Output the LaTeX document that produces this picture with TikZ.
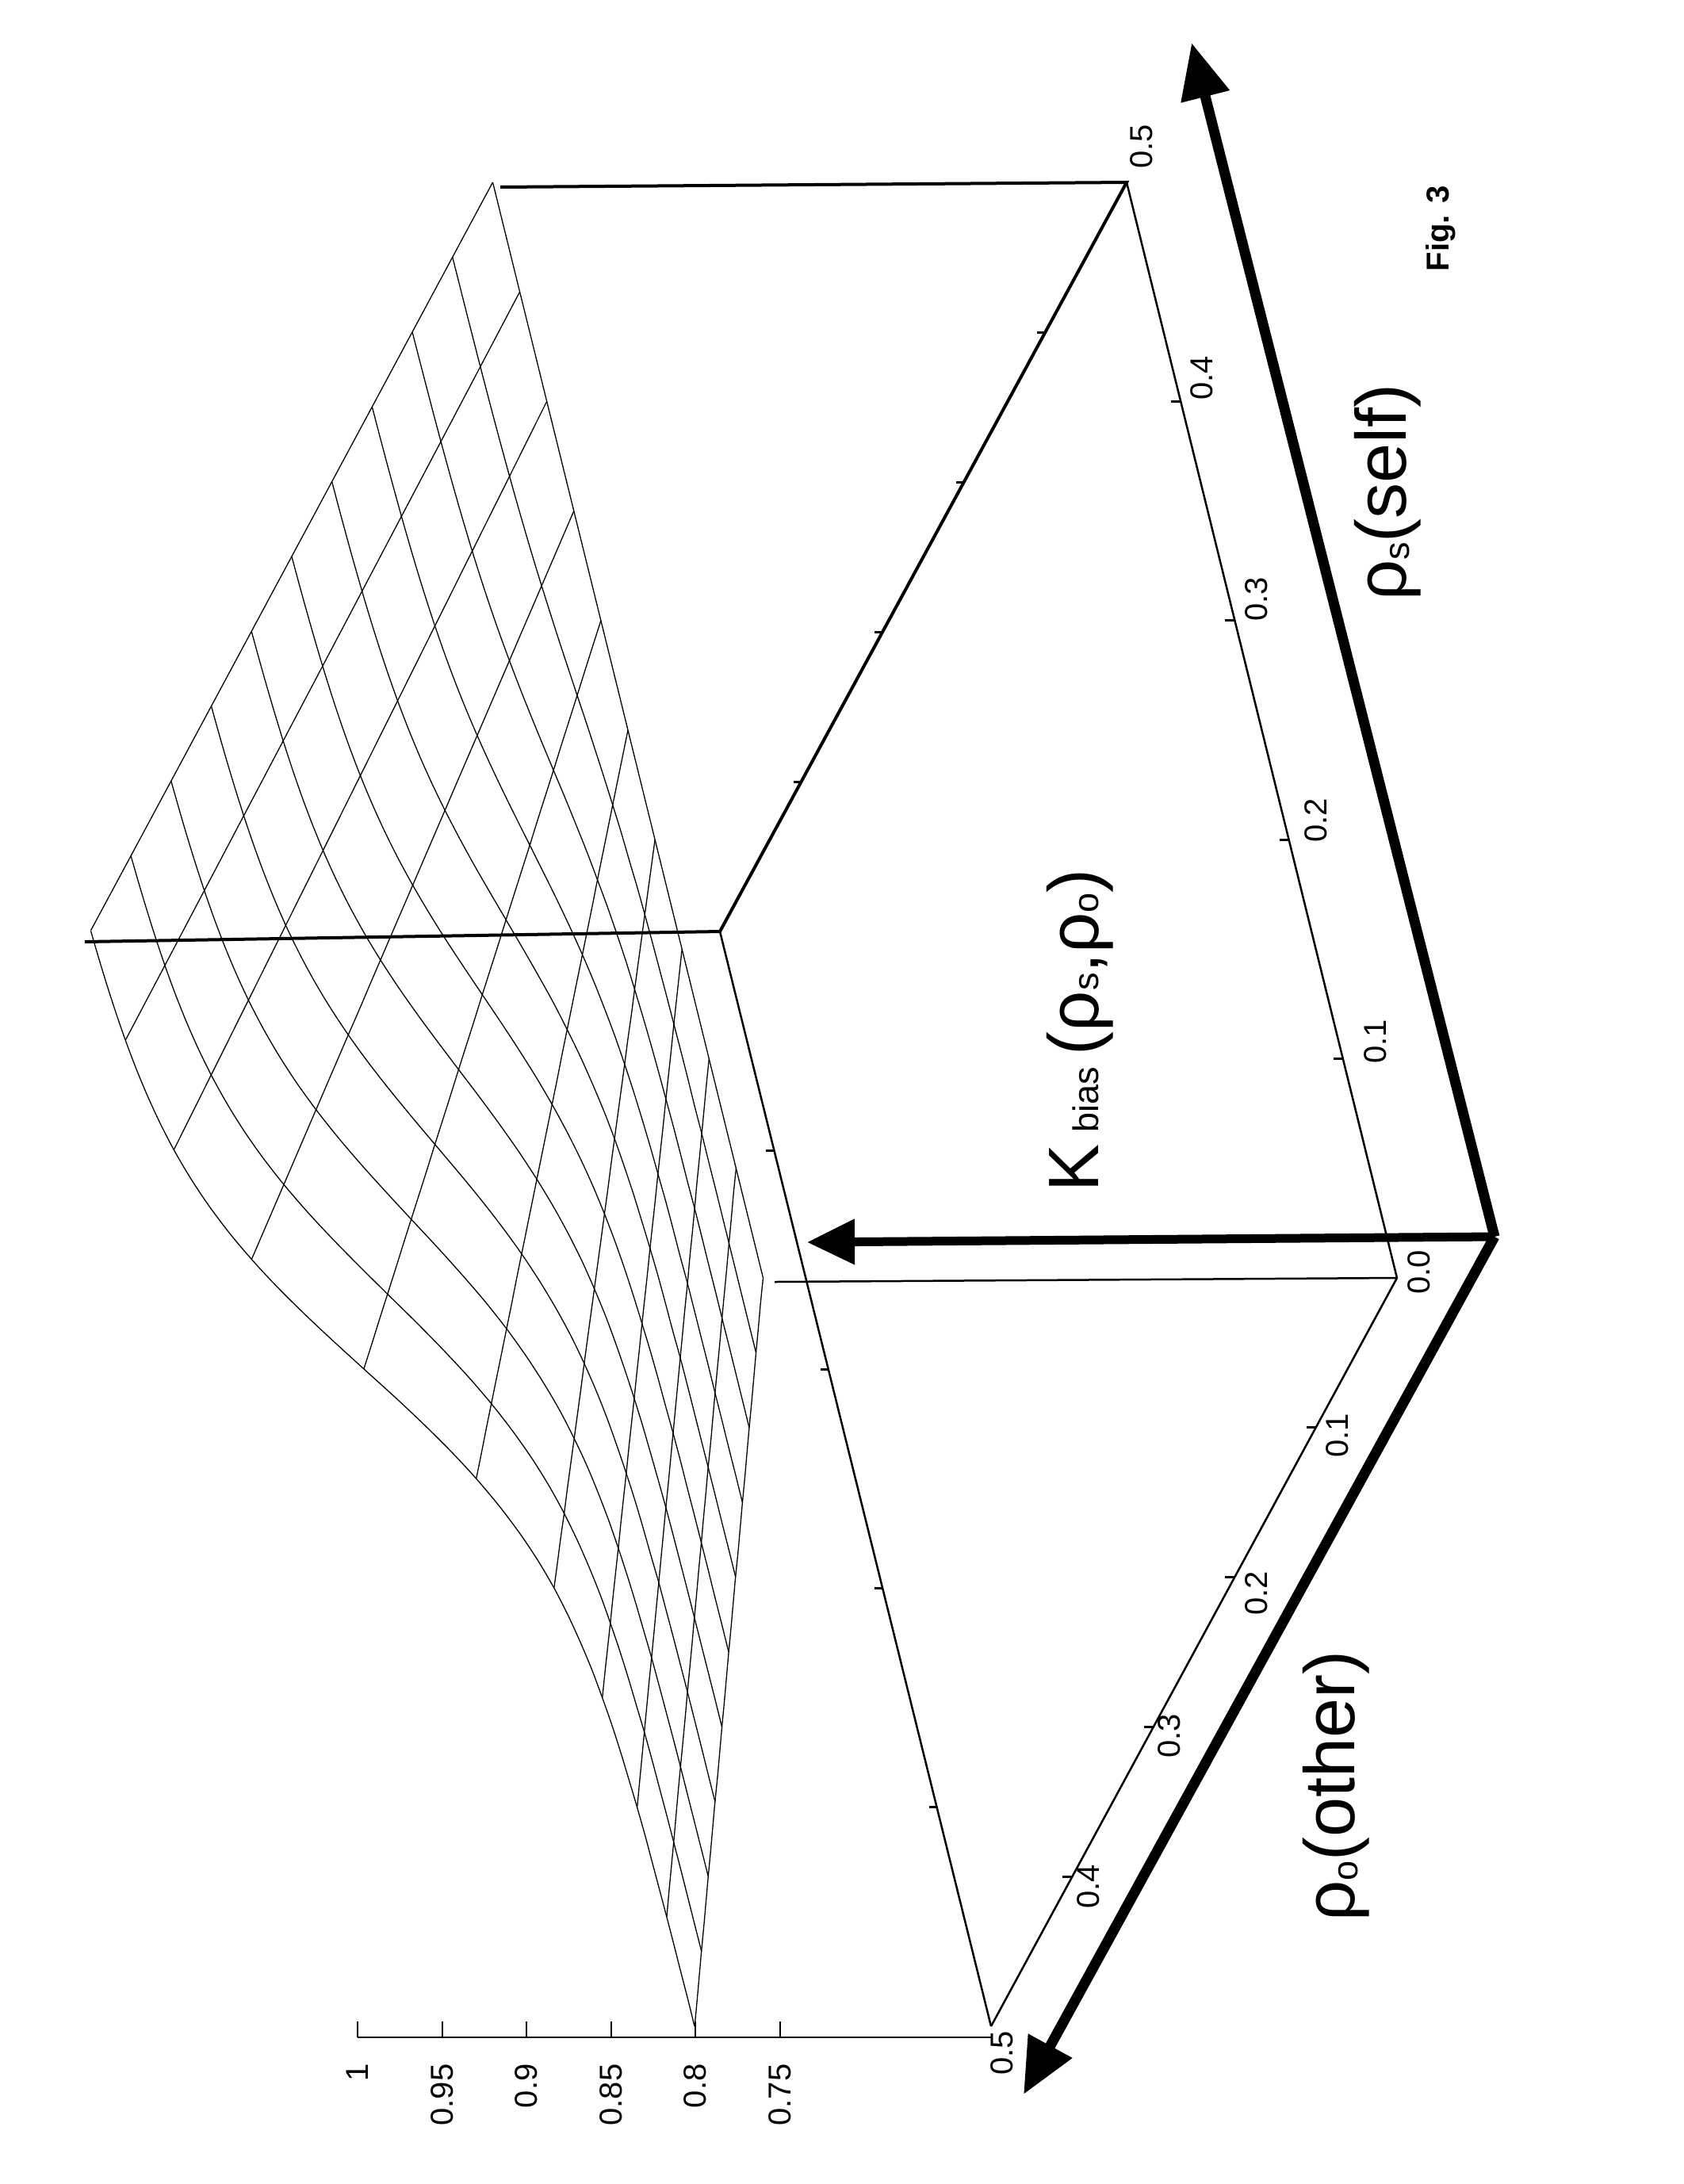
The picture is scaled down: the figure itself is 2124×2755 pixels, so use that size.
\documentclass[tikz,border=0pt]{standalone}
\usepackage{fontspec}
\setmainfont{Liberation Sans}
\usetikzlibrary{arrows.meta,calc}
\begin{document}
\begin{tikzpicture}[x=1pt,y=-1pt,
  declare function={zz(\s,\o)=1-0.4*\o/(1+exp((\s-0.3)/0.045));
    PX(\s,\o)=1762-682*\s-1024*\o-2132*(zz(\s,\o)-0.625);
    PY(\s,\o)=1612-2764*\s+1888*\o;},
  mesh/.style={line width=1.3pt},
  boxline/.style={line width=4pt},
  axisline/.style={line width=2.5pt},
  bigarrow/.style={line width=13pt,-{Triangle[length=70pt,width=60pt]}},
  ticklab/.style={rotate=90,font=\fontsize{40}{40}\selectfont}]
\useasboundingbox (0,0) rectangle (2124,2755);
% surface mesh
\foreach \k in {0,0.05,...,0.501}{
  \draw[mesh] plot[smooth,domain=0:0.5,samples=41,variable=\t] ({PX(\t,\k)},{PY(\t,\k)});
  \draw[mesh] plot[smooth,domain=0:0.5,samples=31,variable=\t] ({PX(\k,\t)},{PY(\k,\t)});
}
% box corners
\coordinate (O) at (1762,1612);
\coordinate (A) at (1421,230);
\coordinate (C) at (908,1175);
\coordinate (E) at (1250,2556);
\coordinate (B) at (631,236);
\coordinate (D) at (107,1188);
\coordinate (Os) at (977,1617);
\coordinate (P) at (1885,1560);
\coordinate (Ts) at (1503,54);
\coordinate (To) at (1291,2642);
\coordinate (Tk) at (1018,1567);
\draw[boxline] (B) -- (A) -- (C) -- (D);
\draw[axisline] (C) -- (E);
\draw[axisline] (O) -- (A);
\draw[axisline] (O) -- (E);
\draw[axisline] (O) -- (Os);
% ticks on box edges
\foreach \f in {0.2,0.4,0.6,0.8}{
  \draw[line width=3pt] ($(C)!\f!(A)$) -- ++(-10,0);
  \draw[line width=3pt] ($(C)!\f!(E)$) -- ++(-10,0);
  \draw[line width=3pt] ($(O)!\f!(A)$) -- ++(-12,0);
  \draw[line width=3pt] ($(O)!\f!(E)$) -- ++(-12,0);
}
% z axis
\coordinate (Z1) at (451,2570);
\coordinate (Z0) at (1250,2570);
\draw[axisline] (Z1) -- (Z0);
\foreach \v/\x in {1/451,0.95/558,0.9/664,0.85/771,0.8/877,0.75/984}{
  \draw[axisline] (\x,2570) -- (\x,2550);
  \node[ticklab,anchor=east] at (\x,2600) {\v};
}
% axis tick labels
\node[ticklab] (s5) at (1440,185) {0.5};
\node[ticklab] (s4) at (1516,477) {0.4};
\node[ticklab] (s3) at (1585,756) {0.3};
\node[ticklab] (s2) at (1660,1035) {0.2};
\node[ticklab] (s1) at (1735,1314) {0.1};
\node[ticklab] (s0) at (1790,1605) {0.0};
\node[ticklab] (o1) at (1687,1811) {0.1};
\node[ticklab] (o2) at (1585,2010) {0.2};
\node[ticklab] (o3) at (1475,2190) {0.3};
\node[ticklab] (o4) at (1373,2380) {0.4};
\node[ticklab] (o5) at (1264,2590) {0.5};
% big arrows
\draw[bigarrow] (P) -- (Ts);
\draw[bigarrow] (P) -- (To);
\draw[line width=11pt,-{Triangle[length=60pt,width=55pt]}] (P) -- (Tk);
% labels
\node[rotate=90,font=\fontsize{90}{90}\selectfont] (ls) at (1750,621) {ρ\raisebox{-4pt}{\fontsize{45}{45}\selectfont s}(self)};
\node[rotate=90,font=\fontsize{90}{90}\selectfont] (lo) at (1685,2253) {ρ\raisebox{-4pt}{\fontsize{45}{45}\selectfont o}(other)};
\node[rotate=90,font=\fontsize{90}{90}\selectfont] (lk) at (1362,1300) {K\,{\fontsize{45}{45}\selectfont bias}\,(ρ{\fontsize{45}{45}\selectfont s},ρ{\fontsize{45}{45}\selectfont o})};
\node[rotate=90,font=\bfseries\fontsize{40}{40}\selectfont] (fig) at (1817,288) {Fig. 3};
\end{tikzpicture}
\end{document}
